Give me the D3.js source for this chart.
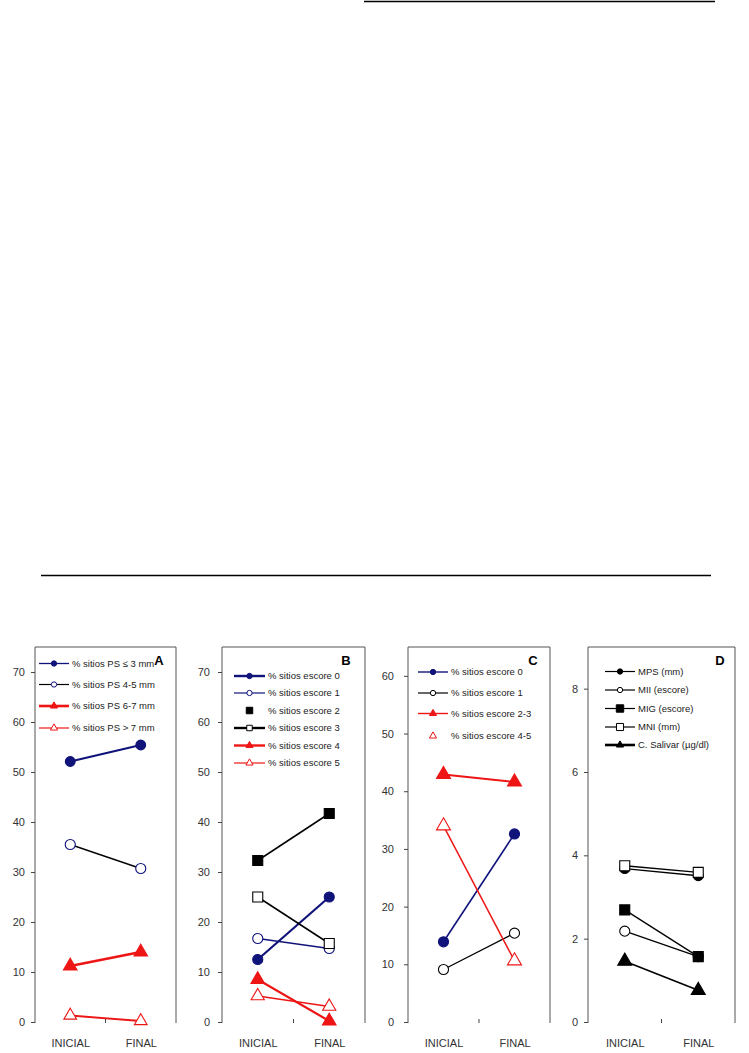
<!DOCTYPE html>
<html><head><meta charset="utf-8">
<script src="https://cdn.jsdelivr.net/npm/d3@7"></script>
<style>body{margin:0;background:#fff}svg{display:block}text{font-family:"Liberation Sans",Arial,sans-serif}</style>
</head><body>
<script>
const categories = ["INICIAL", "FINAL"];

// Panel A
const aLabels = ["% sitios PS ≤ 3 mm", "% sitios PS 4-5 mm", "% sitios PS 6-7 mm", "% sitios PS > 7 mm"];
const aPS3 = [52.1, 55.4];
const aPS45 = [35.5, 30.7];
const aPS67 = [11.2, 14.0];
const aPS7 = [1.3, 0.2];
const aTicks = [0, 10, 20, 30, 40, 50, 60, 70];

// Panel B
const bLabels = ["% sitios escore 0", "% sitios escore 1", "% sitios escore 2", "% sitios escore 3", "% sitios escore 4", "% sitios escore 5"];
const bE0 = [12.5, 25.0];
const bE1 = [16.7, 14.7];
const bE2 = [32.3, 41.7];
const bE3 = [25.0, 15.7];
const bE4 = [8.5, 0.2];
const bE5 = [5.2, 3.1];
const bTicks = [0, 10, 20, 30, 40, 50, 60, 70];

// Panel C
const cLabels = ["% sitios escore 0", "% sitios escore 1", "% sitios escore 2-3", "% sitios escore 4-5"];
const cE0 = [13.9, 32.6];
const cE1 = [9.1, 15.4];
const cE23 = [42.9, 41.6];
const cE45 = [34.0, 10.6];
const cTicks = [0, 10, 20, 30, 40, 50, 60];

// Panel D
const dLabels = ["MPS (mm)", "MII (escore)", "MIG (escore)", "MNI (mm)", "C. Salivar (µg/dl)"];
const dMPS = [3.68, 3.51];
const dMII = [2.18, 1.57];
const dMIG = [2.69, 1.57];
const dMNI = [3.75, 3.59];
const dCS = [1.46, 0.76];
const dTicks = [0, 2, 4, 6, 8];

const NAVY = "#10137a", RED = "#ee1515", BLACK = "#000";

const W = 749, H = 1053;
const svg = d3.select("body").append("svg").attr("width", W).attr("height", H);

// decorative rules of the page
svg.append("line").attr("x1", 364).attr("x2", 715).attr("y1", 1.5).attr("y2", 1.5).attr("stroke", "#000").attr("stroke-width", 1.5);
svg.append("line").attr("x1", 41).attr("x2", 711).attr("y1", 575.5).attr("y2", 575.5).attr("stroke", "#000").attr("stroke-width", 1.5);

const sym = {
  circle: d3.symbolCircle, square: d3.symbolSquare, triangle: d3.symbolTriangle
};

function panel(cfg) {
  const g = svg.append("g");
  const x = d3.scalePoint().domain(categories).range([cfg.left, cfg.right]).padding(0.5);
  const y = d3.scaleLinear().domain([0, cfg.ymax]).range([cfg.bottom, cfg.top]);
  // frame (no bottom line)
  g.append("path").attr("d", `M${cfg.left},${cfg.bottom + 1}V${cfg.top}H${cfg.right}V${cfg.bottom + 1}`)
    .attr("fill", "none").attr("stroke", "#555").attr("stroke-width", 1);
  // y axis
  const ax = g.append("g").attr("transform", `translate(${cfg.left},0)`)
    .call(d3.axisLeft(y).tickValues(cfg.ticks).tickSize(4).tickPadding(cfg.pad));
  ax.select(".domain").remove();
  ax.selectAll("line").attr("stroke", "#444");
  ax.selectAll("text").attr("font-size", 11).attr("fill", "#333");
  // x axis labels
  const xa = g.append("g").attr("transform", `translate(0,${cfg.bottom})`)
    .call(d3.axisBottom(x).tickSize(0).tickPadding(17));
  xa.select(".domain").remove();
  xa.selectAll("text").attr("font-size", 11).attr("fill", "#333");
  // middle tick
  const mid = (x(categories[0]) + x(categories[1])) / 2;
  g.append("line").attr("x1", mid).attr("x2", mid).attr("y1", cfg.bottom - 3).attr("y2", cfg.bottom + 1).attr("stroke", "#444");

  const line = d3.line().x((d, i) => x(categories[i])).y(d => y(d));
  cfg.series.forEach(s => {
    g.append("path").datum(s.values).attr("d", line).attr("fill", "none")
      .attr("stroke", s.lineColor).attr("stroke-width", s.lw);
  });
  cfg.series.forEach(s => {
    g.selectAll(null).data(s.values).join("path")
      .attr("transform", (d, i) => `translate(${x(categories[i])},${y(d)})`)
      .attr("d", d3.symbol().type(sym[s.shape]).size(s.size))
      .attr("fill", s.filled ? s.color : "#fff")
      .attr("stroke", s.color).attr("stroke-width", 1.1);
  });
  // legend
  cfg.series.forEach((s, i) => {
    const ly = cfg.legY[i];
    if (s.legLine !== false) {
      g.append("line").attr("x1", cfg.legX0).attr("x2", cfg.legX1).attr("y1", ly).attr("y2", ly)
        .attr("stroke", s.lineColor).attr("stroke-width", s.legLw || s.lw);
    }
    const mx = (cfg.legX0 + cfg.legX1) / 2;
    g.append("path").attr("transform", `translate(${mx},${ly})`)
      .attr("d", d3.symbol().type(sym[s.shape]).size(s.legSize || 22))
      .attr("fill", s.filled ? s.color : "#fff").attr("stroke", s.color).attr("stroke-width", 1);
    g.append("text").attr("x", cfg.legX1 + 3).attr("y", ly).attr("dy", "0.35em")
      .attr("font-size", 9.5).attr("fill", "#222").text(s.label);
  });
  g.append("text").attr("x", cfg.letterX).attr("y", cfg.top + 18).attr("font-size", 13)
    .attr("font-weight", "bold").attr("text-anchor", "middle").text(cfg.letter);
}

panel({
  left: 35, right: 176, top: 647, bottom: 1022, ymax: 75, ticks: aTicks, pad: 6,
  letter: "A", letterX: 159, legX0: 39, legX1: 69, legY: [663.5, 684.5, 706, 728],
  series: [
    {label: aLabels[0], values: aPS3, color: NAVY, lineColor: NAVY, lw: 2.2, legLw: 1.3, shape: "circle", filled: true, size: 75},
    {label: aLabels[1], values: aPS45, color: NAVY, lineColor: BLACK, lw: 1.4, legLw: 1.2, shape: "circle", filled: false, size: 80},
    {label: aLabels[2], values: aPS67, color: RED, lineColor: RED, lw: 2.4, legLw: 2.6, shape: "triangle", filled: true, size: 80},
    {label: aLabels[3], values: aPS7, color: RED, lineColor: RED, lw: 1.8, legLw: 1.2, shape: "triangle", filled: false, size: 70}
  ]
});

panel({
  left: 222, right: 365, top: 647, bottom: 1022, ymax: 75, ticks: bTicks, pad: 8,
  letter: "B", letterX: 346, legX0: 234, legX1: 265, legY: [676, 693, 710.5, 728, 745.5, 763],
  series: [
    {label: bLabels[0], values: bE0, color: NAVY, lineColor: NAVY, lw: 2.2, legLw: 2.4, shape: "circle", filled: true, size: 80},
    {label: bLabels[1], values: bE1, color: NAVY, lineColor: NAVY, lw: 1.5, legLw: 1.2, shape: "circle", filled: false, size: 80},
    {label: bLabels[2], values: bE2, color: BLACK, lineColor: BLACK, lw: 1.5, shape: "square", filled: true, size: 100, legLine: false, legSize: 42},
    {label: bLabels[3], values: bE3, color: BLACK, lineColor: BLACK, lw: 1.5, legLw: 2.4, shape: "square", filled: false, size: 100, legSize: 30},
    {label: bLabels[4], values: bE4, color: RED, lineColor: RED, lw: 2.2, legLw: 2.4, shape: "triangle", filled: true, size: 80},
    {label: bLabels[5], values: bE5, color: RED, lineColor: RED, lw: 1.5, legLw: 1.2, shape: "triangle", filled: false, size: 75}
  ]
});

panel({
  left: 408, right: 550, top: 647, bottom: 1022, ymax: 65, ticks: cTicks, pad: 10,
  letter: "C", letterX: 533, legX0: 418, legX1: 448, legY: [672, 693, 713.5, 736],
  series: [
    {label: cLabels[0], values: cE0, color: NAVY, lineColor: NAVY, lw: 1.6, legLw: 1.4, shape: "circle", filled: true, size: 80},
    {label: cLabels[1], values: cE1, color: BLACK, lineColor: BLACK, lw: 1.3, legLw: 1.2, shape: "circle", filled: false, size: 80},
    {label: cLabels[2], values: cE23, color: RED, lineColor: RED, lw: 1.8, legLw: 1.4, shape: "triangle", filled: true, size: 85},
    {label: cLabels[3], values: cE45, color: RED, lineColor: RED, lw: 1.5, shape: "triangle", filled: false, size: 85, legLine: false}
  ]
});

panel({
  left: 588, right: 735, top: 647, bottom: 1022, ymax: 9, ticks: dTicks, pad: 6,
  letter: "D", letterX: 720, legX0: 605, legX1: 635, legY: [671.5, 690, 708.5, 727, 745],
  series: [
    {label: dLabels[0], values: dMPS, color: BLACK, lineColor: BLACK, lw: 1.3, legLw: 1.2, shape: "circle", filled: true, size: 75},
    {label: dLabels[1], values: dMII, color: BLACK, lineColor: BLACK, lw: 1.3, legLw: 1.2, shape: "circle", filled: false, size: 80},
    {label: dLabels[2], values: dMIG, color: BLACK, lineColor: BLACK, lw: 1.3, legLw: 1.2, shape: "square", filled: true, size: 100, legSize: 55},
    {label: dLabels[3], values: dMNI, color: BLACK, lineColor: BLACK, lw: 1.3, legLw: 1.2, shape: "square", filled: false, size: 100, legSize: 50},
    {label: dLabels[4], values: dCS, color: BLACK, lineColor: BLACK, lw: 1.6, legLw: 2.6, shape: "triangle", filled: true, size: 85}
  ]
});
</script>
</body></html>
